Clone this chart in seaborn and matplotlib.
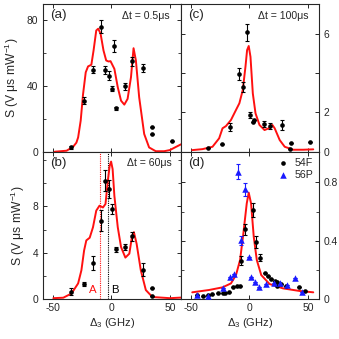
import numpy as np
import pandas as pd
import matplotlib
matplotlib.use("Agg")
import matplotlib.pyplot as plt
import seaborn as sns

# ---------------- data ----------------
# panel (a) dt = 0.5 us
a_x = [-34.7, -23.1, -16.1, -8.7, -5.1, -2.3, 0.6, 2.5, 4.0, 11.9, 17.5, 26.8, 35.0, 34.5, 51.4]
a_y = [2.6, 31.1, 50.0, 76.3, 50.0, 46.4, 38.3, 64.3, 26.5, 39.9, 55.0, 51.1, 14.8, 10.6, 6.7]
a_e = [0.8, 2.2, 2.2, 4.0, 2.5, 2.5, 1.5, 3.5, 1.0, 2.0, 2.5, 2.5, 0.0, 0.0, 0.0]
a_fx = [-48.5, -38.4, -32.8, -30.0, -28.5, -26.3, -24.3, -22.0, -20.0, -17.2, -15.3, -13.0, -11.3,
        -9.3, -6.8, -4.5, -2.5, -0.8, 2.5, 5.4, 8.2, 11.0, 13.8, 16.7, 18.9, 20.9, 23.7, 28.0,
        32.2, 37.9, 45.0, 50.0, 54.0, 59.5]
a_fy = [0.0, 0.6, 3.0, 5.5, 8.7, 19.0, 35.0, 48.4, 52.0, 53.0, 61.7, 73.9, 75.0,
        71.9, 61.7, 55.6, 55.0, 55.2, 50.5, 39.3, 31.1, 28.7, 32.2, 45.4, 63.1, 55.6, 33.2, 10.8,
        2.6, 0.3, 0.3, 1.0, 2.5, 4.5]

# panel (b) dt = 60 us
b_x = [-34.7, -23.1, -16.1, -8.7, -5.1, -2.3, 0.6, 4.0, 11.9, 17.5, 26.8, 35.0, 34.5]
b_y = [0.65, 1.31, 3.13, 6.78, 10.2, 9.49, 7.78, 4.3, 4.5, 5.41, 2.56, 0.99, 0.28]
b_e = [0.3, 0.15, 0.57, 0.9, 0.9, 0.8, 0.4, 0.2, 0.25, 0.35, 0.55, 0.0, 0.0]
b_fx = [-49.7, -41.2, -34.2, -28.5, -25.7, -23.4, -21.5, -18.6, -15.8, -13.0, -10.2, -7.3,
        -5.1, -3.1, -1.5, -0.3, 1.0, 2.5, 5.4, 8.2, 11.9, 15.3, 17.5, 19.2, 21.5, 25.1, 29.4,
        35.0, 50.0, 59.5]
b_fy = [0.1, 0.14, 0.5, 1.37, 2.5, 4.2, 5.07, 5.3, 6.2, 7.63, 8.06, 7.9,
        8.2, 10.2, 11.5, 11.85, 11.2, 8.9, 6.2, 4.5, 3.59, 3.93, 5.36, 5.78, 4.79, 2.5, 0.8,
        0.2, 0.1, 0.15]
line_A = -9.6
line_B = -2.8

# panel (c) dt = 100 us
c_x = [-35.1, -23.6, -16.7, -8.6, -5.2, -2.0, 0.6, 2.9, 4.3, 12.4, 17.8, 27.6, 35.6, 35.1, 51.7]
c_y = [0.17, 0.39, 1.27, 3.94, 3.27, 6.06, 1.85, 1.52, 1.6, 1.4, 1.32, 1.35, 0.42, 0.12, 0.47]
c_e = [0.0, 0.0, 0.2, 0.3, 0.25, 0.45, 0.15, 0.0, 0.0, 0.15, 0.15, 0.25, 0.0, 0.0, 0.0]
c_fx = [-48.9, -40.2, -31.6, -25.9, -23.0, -20.1, -15.8, -11.5, -8.6, -5.7, -3.4, -2.0, -0.6,
        0.9, 2.9, 5.2, 8.6, 12.9, 16.6, 19.6, 21.6, 25.9, 30.2, 37.4, 46.0, 54.6]
c_fy = [0.08, 0.13, 0.25, 0.68, 1.19, 1.3, 1.61, 2.12, 2.46, 3.13, 4.31, 5.16, 5.37,
        4.82, 2.96, 1.95, 1.36, 1.1, 1.19, 1.36, 1.19, 0.59, 0.25, 0.1, 0.1, 0.12]

# panel (d) 54F and 56P
d54_x = [-44.6, -39.7, -35.1, -31.6, -27.3, -23.0, -20.7, -17.8, -14.4, -10.6, -8.0, -7.2, -3.7,
         2.9, 5.7, 9.2, 12.9, 15.8, 18.7, 21.6, 23.6, 23.6, 27.3, 31.6, 42.5, 47.4]
d54_y = [0.03, 0.023, 0.03, 0.034, 0.041, 0.045, 0.045, 0.052, 0.082, 0.093, 0.09, 0.264, 0.478,
         0.61, 0.394, 0.285, 0.182, 0.159, 0.137, 0.125, 0.12, 0.09, 0.105, 0.093, 0.086, 0.057]
d54_e = [0, 0, 0, 0, 0, 0, 0, 0, 0, 0, 0, 0.03, 0.04,
         0.05, 0.04, 0.025, 0, 0, 0, 0, 0, 0, 0, 0, 0, 0]
d56_x = [-44.6, -35.1, -23.0, -16.4, -12.9, -10.0, -7.2, -3.7, -0.6, 1.4, 4.9, 8.0,
         14.4, 20.7, 25.9, 32.5, 38.8, 45.1]
d56_y = [0.03, 0.02, 0.08, 0.15, 0.173, 0.872, 0.405, 0.752, 0.291, 0.155, 0.12, 0.086,
         0.102, 0.114, 0.114, 0.098, 0.143, 0.048]
d56_e = [0, 0, 0, 0, 0, 0.052, 0.03, 0.045, 0, 0, 0, 0,
         0, 0, 0, 0, 0, 0]
d_fx = [-48.9, -34.5, -23.0, -15.8, -11.5, -8.0, -5.2, -2.3, -0.6, 1.4, 3.7, 6.3, 10.1,
        17.2, 28.7, 43.1, 54.6]
d_fy = [0.048, 0.064, 0.082, 0.109, 0.166, 0.269, 0.45, 0.656, 0.73, 0.656, 0.428, 0.269, 0.166,
        0.105, 0.075, 0.057, 0.048]

# ---------------- style ----------------
sns.set_theme(style="ticks")
plt.rcParams["font.family"] = ["Liberation Sans", "DejaVu Sans"]
plt.rcParams["mathtext.fontset"] = "custom"
plt.rcParams["mathtext.rm"] = "Liberation Sans"
plt.rcParams["mathtext.it"] = "Liberation Sans"
plt.rcParams["axes.linewidth"] = 0.8

fig, axes = plt.subplots(2, 2, figsize=(3.39, 3.39), dpi=100, sharex=True)
fig.subplots_adjust(left=0.127, right=0.941, top=0.988, bottom=0.117, wspace=0, hspace=0)
ax_a, ax_c = axes[0]
ax_b, ax_d = axes[1]

RED = "#ff1010"
BLUE = "#1a1aff"
FS = 7.4


def fit_line(ax, x, y):
    sns.lineplot(x=x, y=y, ax=ax, color=RED, lw=1.4, sort=False, estimator=None, zorder=2)


def pts(ax, x, y, e, color="black", marker="o", s=11):
    ax.errorbar(x, y, yerr=e, fmt="none", ecolor=color, elinewidth=0.8, capsize=1.5,
                capthick=0.8, zorder=3)
    sns.scatterplot(x=x, y=y, ax=ax, color=color, marker=marker, s=s,
                    edgecolor=color, linewidth=0, zorder=4)


fit_line(ax_a, a_fx, a_fy)
pts(ax_a, a_x, a_y, a_e)
fit_line(ax_b, b_fx, b_fy)
pts(ax_b, b_x, b_y, b_e)
fit_line(ax_c, c_fx, c_fy)
pts(ax_c, c_x, c_y, c_e)
fit_line(ax_d, d_fx, d_fy)
ax_d.errorbar(d54_x, d54_y, yerr=d54_e, fmt="none", ecolor="black", elinewidth=0.8,
              capsize=1.5, capthick=0.8, zorder=3)
ax_d.errorbar(d56_x, d56_y, yerr=d56_e, fmt="none", ecolor=BLUE, elinewidth=0.8,
              capsize=1.5, capthick=0.8, zorder=3)
sns.scatterplot(x=d54_x, y=d54_y, ax=ax_d, color="black", marker="o", s=11, linewidth=0,
                zorder=4, label="54F")
sns.scatterplot(x=d56_x, y=d56_y, ax=ax_d, color=BLUE, marker="^", s=22, linewidth=0,
                zorder=4, label="56P")
ax_d.legend(loc="upper right", frameon=False, fontsize=FS + 0.3, handletextpad=0.1,
            borderaxespad=0.45, labelspacing=0.2, borderpad=0.1, markerscale=1.0)

# vertical guide lines in (b)
ax_b.axvline(line_A, color=RED, lw=0.8, ls=(0, (1, 1)), zorder=1)
ax_b.axvline(line_B, color="black", lw=0.8, ls=(0, (1, 1)), zorder=1)
ax_b.text(line_A - 6.5, 0.35, "A", color=RED, fontsize=FS + 0.8, ha="center", va="bottom")
ax_b.text(line_B + 6.0, 0.35, "B", color="black", fontsize=FS + 0.8, ha="center", va="bottom")

# limits
for ax in axes.flat:
    ax.set_xlim(-58.5, 59.5)
    ax.set_xticks([-50, 0, 50])
    ax.tick_params(direction="in", length=3, width=0.7, top=True, bottom=True, left=True,
                   right=True, labelsize=FS, pad=3.5)
    ax.tick_params(which="minor", direction="in", length=2, width=0.6, top=False, bottom=False,
                   left=True, right=True)
    ax.set_xlabel("")
    ax.set_ylabel("")

ax_a.set_ylim(0, 90)
ax_a.set_yticks([0, 40, 80])
ax_a.set_yticks([20, 60], minor=True)
ax_b.set_ylim(0, 12.7)
ax_b.set_yticks([0, 4, 8])
ax_b.set_yticks([2, 6, 10, 12], minor=True)
ax_c.set_ylim(0, 7.5)
ax_c.set_yticks([0, 2, 4, 6])
ax_c.set_yticklabels(["0", "2", "", "6"])
ax_d.set_ylim(0, 1.01)
ax_d.set_yticks([0, 0.4, 0.8])
ax_d.set_yticklabels(["0", "0.4", "0.8"])
ax_d.set_yticks([0.2, 0.6], minor=True)

for ax in (ax_c, ax_d):
    ax.tick_params(labelleft=False, labelright=True)
for ax in (ax_a, ax_c):
    ax.tick_params(labelbottom=False)
for ax in (ax_b, ax_d):
    ax.tick_params(axis="x", pad=2.5)

ax_b.set_xticklabels(["-50", "0", "50"])
ax_d.set_xticklabels(["-50", "0", "50"])

ylab = r"S (V μs mW$^{-1}$)"
ax_a.set_ylabel(ylab, fontsize=FS + 1.3, labelpad=4)
ax_b.set_ylabel(ylab, fontsize=FS + 1.3, labelpad=4)
ax_b.set_xlabel(r"Δ$_3$ (GHz)", fontsize=FS + 0.6, labelpad=2)
ax_d.set_xlabel(r"Δ$_3$ (GHz)", fontsize=FS + 0.6, labelpad=2)

# panel labels and annotations
for ax, lab in ((ax_a, "(a)"), (ax_b, "(b)"), (ax_c, "(c)"), (ax_d, "(d)")):
    ax.text(0.05, 0.965, lab, transform=ax.transAxes, fontsize=9.6, ha="left", va="top")
ax_a.text(0.915, 0.955, "Δt = 0.5μs", transform=ax_a.transAxes, fontsize=FS + 0.2,
          ha="right", va="top")
ax_b.text(0.93, 0.955, "Δt = 60μs", transform=ax_b.transAxes, fontsize=FS + 0.2,
          ha="right", va="top")
ax_c.text(0.927, 0.955, "Δt = 100μs", transform=ax_c.transAxes, fontsize=FS + 0.2,
          ha="right", va="top")

fig.savefig("out.png", dpi=100)
